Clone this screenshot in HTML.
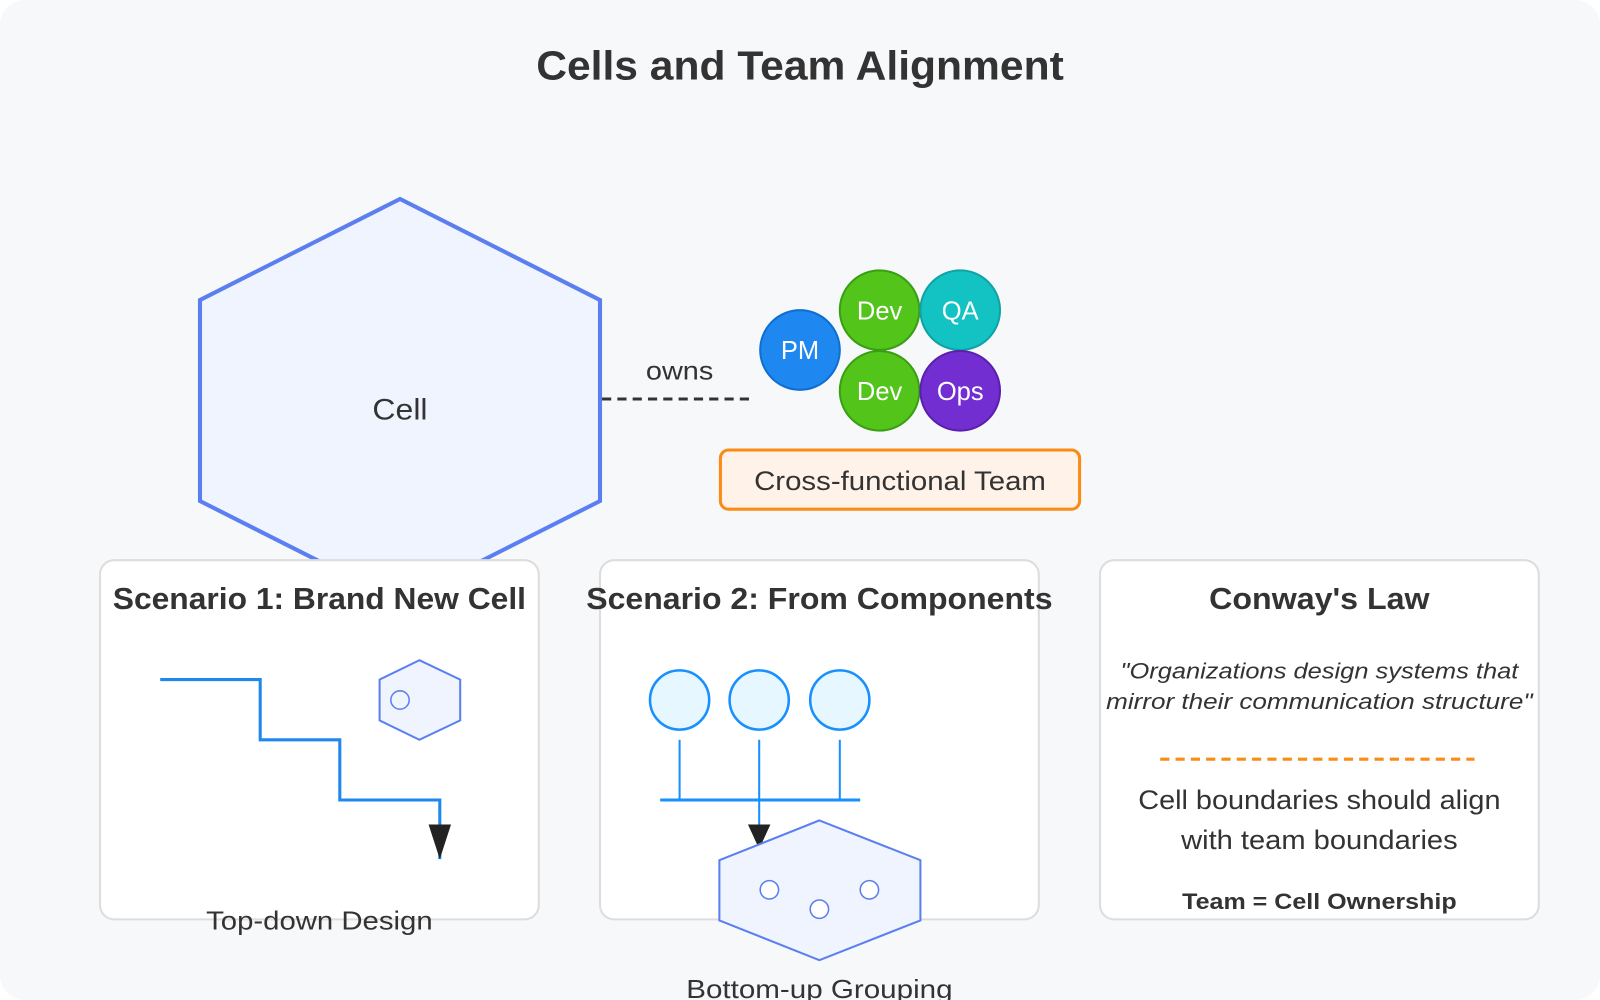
<!DOCTYPE html>
<html><head><meta charset="utf-8"><style>html,body{margin:0;padding:0;background:#fff}svg{display:block}text{font-family:"Liberation Sans",sans-serif}</style></head><body>
<svg width="1600" height="1000" viewBox="0 0 1568 980" xmlns="http://www.w3.org/2000/svg">
<rect x="0" y="0" width="1568" height="980" rx="24" fill="#f7f8fa"/>
<text x="784" y="78" text-anchor="middle" font-size="40" font-weight="bold" fill="#333" textLength="517" lengthAdjust="spacingAndGlyphs">Cells and Team Alignment</text>
<polygon points="392,195 588,294 588,491 392,590 196,491 196,294" fill="#eff4fe" stroke="#5b7ff0" stroke-width="4"/>
<text x="392" y="411" text-anchor="middle" font-size="29" fill="#333" textLength="54" lengthAdjust="spacingAndGlyphs">Cell</text>
<line x1="590" y1="391" x2="740" y2="391" stroke="#333" stroke-width="3" stroke-dasharray="9,6"/>
<text x="666" y="372" text-anchor="middle" font-size="25" fill="#333" textLength="66" lengthAdjust="spacingAndGlyphs">owns</text>
<circle cx="784" cy="343" r="39" fill="#1e88f0" stroke="#0f6fd0" stroke-width="2"/>
<text x="784" y="352" text-anchor="middle" font-size="25" fill="#fff">PM</text>
<circle cx="862" cy="304" r="39" fill="#52c41a" stroke="#3a9e14" stroke-width="2"/>
<text x="862" y="313" text-anchor="middle" font-size="25" fill="#fff">Dev</text>
<circle cx="941" cy="304" r="39" fill="#13c2c2" stroke="#0fa3a3" stroke-width="2"/>
<text x="941" y="313" text-anchor="middle" font-size="25" fill="#fff">QA</text>
<circle cx="862" cy="383" r="39" fill="#52c41a" stroke="#3a9e14" stroke-width="2"/>
<text x="862" y="392" text-anchor="middle" font-size="25" fill="#fff">Dev</text>
<circle cx="941" cy="383" r="39" fill="#722ed1" stroke="#5a20ad" stroke-width="2"/>
<text x="941" y="392" text-anchor="middle" font-size="25" fill="#fff">Ops</text>
<rect x="706" y="441" width="352" height="58" rx="8" fill="#fff2e8" stroke="#fa8c16" stroke-width="3"/>
<text x="882" y="480" text-anchor="middle" font-size="26" fill="#333" textLength="286" lengthAdjust="spacingAndGlyphs">Cross-functional Team</text>
<rect x="98" y="549" width="430" height="352" rx="14" fill="#fff" stroke="#ddd" stroke-width="2"/>
<rect x="588" y="549" width="430" height="352" rx="14" fill="#fff" stroke="#ddd" stroke-width="2"/>
<rect x="1078" y="549" width="430" height="352" rx="14" fill="#fff" stroke="#ddd" stroke-width="2"/>
<text x="313" y="597" text-anchor="middle" font-size="30" font-weight="bold" fill="#333" textLength="405" lengthAdjust="spacingAndGlyphs">Scenario 1: Brand New Cell</text>
<text x="803" y="597" text-anchor="middle" font-size="30" font-weight="bold" fill="#333" textLength="457" lengthAdjust="spacingAndGlyphs">Scenario 2: From Components</text>
<text x="1293" y="597" text-anchor="middle" font-size="30" font-weight="bold" fill="#333" textLength="216" lengthAdjust="spacingAndGlyphs">Conway's Law</text>
<polyline points="157,666 255,666 255,725 333,725 333,784 431,784 431,842" fill="none" stroke="#1e88f0" stroke-width="3"/>
<polygon points="420,808 442,808 431,842" fill="#222"/>
<polygon points="411,647 451,666 451,706 411,725 372,706 372,666" fill="#eff4fe" stroke="#5b7ff0" stroke-width="2"/>
<circle cx="392" cy="686" r="9" fill="none" stroke="#5b7ff0" stroke-width="1.5"/>
<text x="313" y="911" text-anchor="middle" font-size="25" fill="#333" textLength="222" lengthAdjust="spacingAndGlyphs">Top-down Design</text>
<circle cx="666" cy="686" r="29" fill="#e6f7ff" stroke="#1890ff" stroke-width="2.5"/>
<circle cx="744" cy="686" r="29" fill="#e6f7ff" stroke="#1890ff" stroke-width="2.5"/>
<circle cx="823" cy="686" r="29" fill="#e6f7ff" stroke="#1890ff" stroke-width="2.5"/>
<g stroke="#1890ff" stroke-width="2"><line x1="666" y1="725" x2="666" y2="784"/><line x1="823" y1="725" x2="823" y2="784"/><line x1="744" y1="725" x2="744" y2="830"/><line x1="647" y1="784" x2="843" y2="784" stroke-width="3"/></g>
<polygon points="733,808 755,808 744,832" fill="#222"/>
<polygon points="803,804 902,843 902,902 803,941 705,902 705,843" fill="#eff4fe" stroke="#5b7ff0" stroke-width="2"/>
<circle cx="754" cy="872" r="9" fill="#fff" stroke="#5b7ff0" stroke-width="1.5"/>
<circle cx="852" cy="872" r="9" fill="#fff" stroke="#5b7ff0" stroke-width="1.5"/>
<circle cx="803" cy="891" r="9" fill="#fff" stroke="#5b7ff0" stroke-width="1.5"/>
<text x="803" y="978" text-anchor="middle" font-size="25" fill="#333" textLength="261" lengthAdjust="spacingAndGlyphs">Bottom-up Grouping</text>
<text x="1293" y="665" text-anchor="middle" font-size="22" font-style="italic" fill="#333" textLength="390" lengthAdjust="spacingAndGlyphs">"Organizations design systems that</text>
<text x="1293" y="695" text-anchor="middle" font-size="22" font-style="italic" fill="#333" textLength="418" lengthAdjust="spacingAndGlyphs">mirror their communication structure"</text>
<line x1="1137" y1="744" x2="1445" y2="744" stroke="#fa8c16" stroke-width="3" stroke-dasharray="9,6"/>
<text x="1293" y="793" text-anchor="middle" font-size="26" fill="#333" textLength="355" lengthAdjust="spacingAndGlyphs">Cell boundaries should align</text>
<text x="1293" y="832" text-anchor="middle" font-size="26" fill="#333" textLength="271" lengthAdjust="spacingAndGlyphs">with team boundaries</text>
<text x="1293" y="891" text-anchor="middle" font-size="22" font-weight="bold" fill="#333" textLength="269" lengthAdjust="spacingAndGlyphs">Team = Cell Ownership</text>
</svg>
</body></html>
